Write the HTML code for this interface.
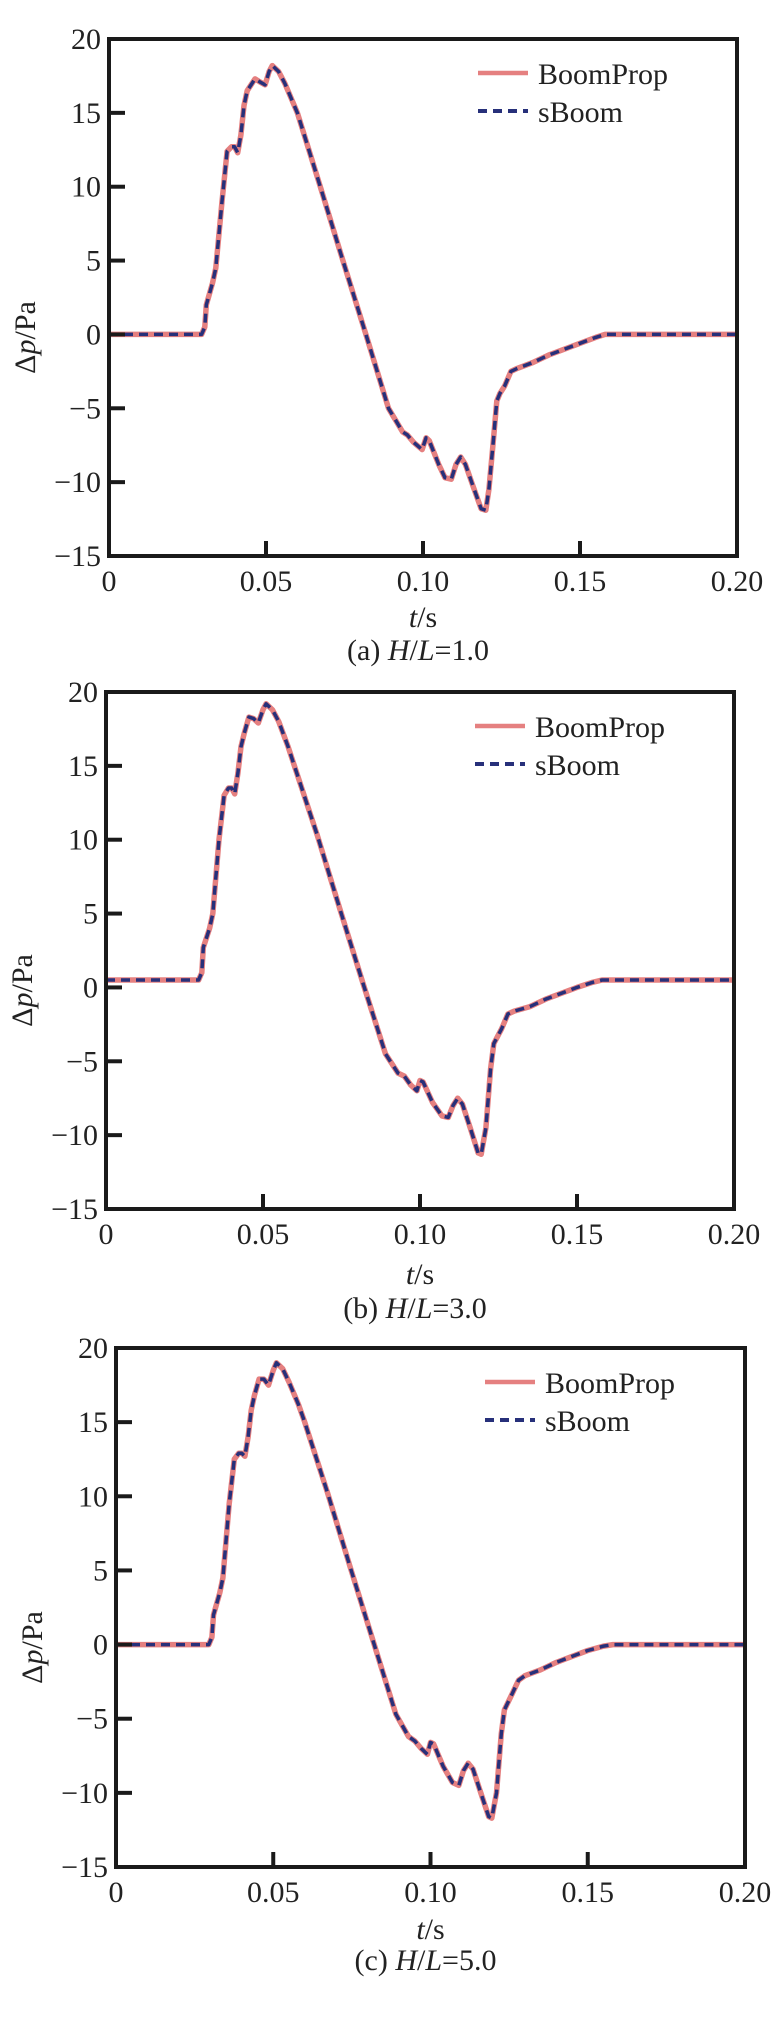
<!DOCTYPE html>
<html><head><meta charset="utf-8"><style>
html,body{margin:0;padding:0;background:#fff}
svg{display:block}
text{font-family:"Liberation Serif",serif;fill:#222}
</style></head><body>
<svg id="s" width="784" height="2032" xmlns="http://www.w3.org/2000/svg"></svg>
<script>
const NS="http://www.w3.org/2000/svg";
const S=document.getElementById('s');
function el(t,a,txt){const e=document.createElementNS(NS,t);for(const k in a)e.setAttribute(k,a[k]);if(txt!==undefined)e.innerHTML=txt;S.appendChild(e);return e;}
const FS=30;
const panels=[
 {L:109,R:737,T:39,B:556,lab:580,ts:616,cap:649,capt:'(a) <tspan font-style="italic">H</tspan>/<tspan font-style="italic">L</tspan>=1.0',
  d:[[0,0],[0.0295,0],[0.0305,0.5],[0.031,2],[0.033,3.5],[0.034,4.5],[0.036,9],[0.0376,12.4],[0.039,12.7],[0.040,12.7],[0.041,12.3],[0.042,13.5],[0.043,15.5],[0.044,16.5],[0.0465,17.3],[0.048,17.1],[0.0497,16.9],[0.051,17.8],[0.052,18.2],[0.054,17.8],[0.056,17],[0.058,16],[0.060,15],[0.0673,10],[0.0745,5],[0.0818,0],[0.089,-5],[0.0935,-6.6],[0.095,-6.8],[0.097,-7.3],[0.0997,-7.8],[0.101,-7.0],[0.102,-7.2],[0.105,-8.8],[0.107,-9.7],[0.109,-9.8],[0.1105,-8.8],[0.112,-8.3],[0.1135,-8.8],[0.116,-10.3],[0.1185,-11.8],[0.12,-11.9],[0.121,-10.5],[0.1225,-7],[0.1235,-4.5],[0.1245,-4],[0.126,-3.5],[0.128,-2.5],[0.130,-2.3],[0.135,-1.9],[0.14,-1.4],[0.145,-1.0],[0.150,-0.6],[0.155,-0.2],[0.158,0],[0.2,0]]},
 {L:106,R:734,T:692,B:1209,lab:1233,ts:1273,cap:1307,capt:'(b) <tspan font-style="italic">H</tspan>/<tspan font-style="italic">L</tspan>=3.0',
  d:[[0,0.5],[0.0295,0.5],[0.0305,1],[0.031,2.7],[0.033,4],[0.034,5],[0.036,10],[0.0376,13],[0.039,13.5],[0.040,13.5],[0.041,13.1],[0.042,14.5],[0.043,16.3],[0.044,17.2],[0.0455,18.3],[0.047,18.2],[0.0485,17.9],[0.050,18.8],[0.051,19.2],[0.053,18.8],[0.055,18],[0.058,16.3],[0.060,15],[0.0673,10.3],[0.0745,5.3],[0.0818,0.3],[0.089,-4.5],[0.093,-5.8],[0.095,-6],[0.097,-6.6],[0.099,-7],[0.100,-6.3],[0.101,-6.4],[0.104,-7.8],[0.107,-8.7],[0.109,-8.8],[0.1105,-8],[0.112,-7.5],[0.1135,-7.9],[0.116,-9.5],[0.1185,-11.2],[0.1195,-11.3],[0.121,-9.5],[0.1225,-5.5],[0.1235,-3.8],[0.126,-2.8],[0.128,-1.8],[0.130,-1.6],[0.135,-1.3],[0.14,-0.8],[0.145,-0.4],[0.150,0],[0.155,0.35],[0.158,0.5],[0.2,0.5]]},
 {L:116,R:745,T:1348,B:1867,lab:1891,ts:1928,cap:1959,capt:'(c) <tspan font-style="italic">H</tspan>/<tspan font-style="italic">L</tspan>=5.0',
  d:[[0,0],[0.0295,0],[0.0305,0.5],[0.031,2],[0.033,3.5],[0.034,4.5],[0.036,9.5],[0.0376,12.5],[0.039,12.9],[0.040,12.9],[0.041,12.7],[0.042,14],[0.043,15.8],[0.044,16.8],[0.0455,17.9],[0.047,17.9],[0.0485,17.5],[0.050,18.5],[0.051,19],[0.053,18.6],[0.055,17.7],[0.058,16.2],[0.060,15],[0.0673,10.2],[0.0745,5.2],[0.0818,0.2],[0.089,-4.7],[0.093,-6.2],[0.095,-6.5],[0.097,-7],[0.099,-7.4],[0.100,-6.6],[0.101,-6.7],[0.104,-8.2],[0.107,-9.3],[0.109,-9.5],[0.1105,-8.5],[0.112,-8],[0.1135,-8.4],[0.116,-10],[0.1185,-11.6],[0.1195,-11.7],[0.121,-10],[0.1225,-6],[0.1235,-4.4],[0.126,-3.3],[0.128,-2.4],[0.130,-2.1],[0.135,-1.7],[0.14,-1.2],[0.145,-0.8],[0.150,-0.4],[0.155,-0.1],[0.158,0],[0.2,0]]}
];
panels.forEach(p=>{
  const X=t=>p.L+t/0.2*(p.R-p.L), Y=v=>p.T+(20-v)/35*(p.B-p.T);
  let path='';p.d.forEach((q,i)=>{path+=(i?'L':'M')+X(q[0]).toFixed(1)+' '+Y(q[1]).toFixed(1)+' ';});
  el('path',{d:path,fill:'none',stroke:'#e58080','stroke-width':5.5,'stroke-linejoin':'round'});
  el('path',{d:path,fill:'none',stroke:'#27307a','stroke-width':3.5,'stroke-dasharray':'9 6','stroke-linejoin':'round'});
  el('rect',{x:p.L,y:p.T,width:p.R-p.L,height:p.B-p.T,fill:'none',stroke:'#1a1a1a','stroke-width':4});
  [20,15,10,5,0,-5,-10,-15].forEach(v=>{
    const y=Y(v);
    el('line',{x1:p.L,x2:p.L+16,y1:y,y2:y,stroke:'#1a1a1a','stroke-width':4});
    el('text',{x:p.L-8,y:y+10,'text-anchor':'end','font-size':FS},v<0?'\u2212'+(-v):String(v));
  });
  [[0,'0'],[0.05,'0.05'],[0.1,'0.10'],[0.15,'0.15'],[0.2,'0.20']].forEach(q=>{
    const x=X(q[0]);
    el('line',{x1:x,x2:x,y1:p.B,y2:p.B-15,stroke:'#1a1a1a','stroke-width':4});
    el('text',{x:x,y:p.lab+11,'text-anchor':'middle','font-size':FS},q[1]);
  });
  const cx=(p.L+p.R)/2;
  el('text',{x:cx,y:p.ts+11,'text-anchor':'middle','font-size':FS},'<tspan font-style="italic">t</tspan>/s');
  el('text',{x:cx-5,y:p.cap+11,'text-anchor':'middle','font-size':FS},p.capt);
  const my=(p.T+p.B)/2+40;
  el('text',{x:0,y:0,'text-anchor':'middle','font-size':FS,transform:`translate(${p.L-74},${my}) rotate(-90)`},'\u0394<tspan font-style="italic">p</tspan>/Pa');
  const lx=p.L+369, ly1=p.T+34, ly2=p.T+72;
  el('line',{x1:lx,x2:lx+50,y1:ly1,y2:ly1,stroke:'#e58080','stroke-width':4.5});
  el('line',{x1:lx,x2:lx+50,y1:ly2,y2:ly2,stroke:'#27307a','stroke-width':4,'stroke-dasharray':'9 6'});
  el('text',{x:lx+60,y:ly1+11,'font-size':FS},'BoomProp');
  el('text',{x:lx+60,y:ly2+11,'font-size':FS},'sBoom');
});
</script>
</body></html>
